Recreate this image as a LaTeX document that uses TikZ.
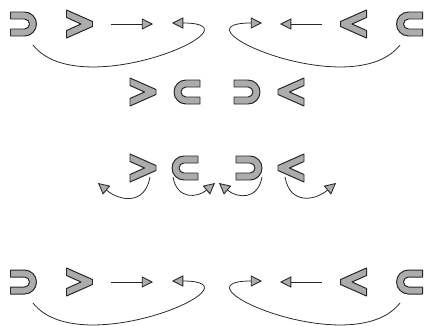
\documentclass[tikz,border=0pt]{standalone}
\usetikzlibrary{arrows.meta}

\begin{document}
\begin{tikzpicture}[x=0.025cm, y=0.025cm,
    glyph/.style={draw=black!85, fill=gray!65, line width=0.7pt, line join=round},
    arrow/.style={-{Triangle[length=8pt, width=8pt, fill=gray!65, line width=0.6pt]}, line width=0.55pt, draw=black!85},
    supset/.pic={\draw[glyph] (-13,12) -- (1,12) arc (90:-90:12) -- (-13,-12) -- (-13,-5) -- (1,-5) arc (-90:90:5) -- (-13,5) -- cycle;},
    gt/.pic={\draw[glyph] (-13,14) -- (13,2.5) -- (13,-2.5) -- (-13,-14) -- (-13,-6.5) -- (1.5,0) -- (-13,6.5) -- cycle;}
]
\useasboundingbox (0,0) rectangle (425,325);

% top and bottom rows
\foreach \y/\r in {301/a, 43/d} {
  \coordinate (sup\r) at (23.5,\y);
  \coordinate (gt\r) at (79.5,\y);
  \coordinate (headL\r) at (153,\y);
  \coordinate (tipL\r) at (172,\y+1);
  \coordinate (sub\r) at (409.5,\y);
  \coordinate (lt\r) at (353.5,\y);
  \coordinate (headR\r) at (280,\y);
  \coordinate (tipR\r) at (262,\y+1);

  \pic at (sup\r) {supset};
  \pic at (gt\r) {gt};
  \pic[xscale=-1] at (sub\r) {supset};
  \pic[xscale=-1] at (lt\r) {gt};

  \draw[arrow] ([xshift=22.5]gt\r) -- (headL\r);
  \draw[arrow] ([xshift=-22.5]lt\r) -- (headR\r);
  \draw[arrow] ([shift={(9.5,-21)}]sup\r) .. controls +(47,-60) and +(95,0) .. (tipL\r);
  \draw[arrow] ([shift={(-9.5,-21)}]sub\r) .. controls +(-47,-60) and +(-95,0) .. (tipR\r);
}

% second row
\coordinate (gtb) at (143,233);
\coordinate (subb) at (187,233);
\coordinate (supb) at (247,233);
\coordinate (ltb) at (291,233);
\pic at (gtb) {gt};
\pic[xscale=-1] at (subb) {supset};
\pic at (supb) {supset};
\pic[xscale=-1] at (ltb) {gt};

% third row
\coordinate (gtc) at (143,157);
\coordinate (subc) at (185,157);
\coordinate (supc) at (249,157);
\coordinate (ltc) at (291,157);
\coordinate (tip1) at (98,142);
\coordinate (tip2) at (215,142);
\coordinate (tip3) at (219,142);
\coordinate (tip4) at (336,142);
\pic at (gtc) {gt};
\pic[xscale=-1] at (subc) {supset};
\pic at (supc) {supset};
\pic[xscale=-1] at (ltc) {gt};

\draw[arrow] ([shift={(7,-9)}]gtc) to[out=-100, in=-40, looseness=1.4] (tip1);
\draw[arrow] ([shift={(-12,-9)}]subc) to[out=-80, in=-140, looseness=1.4] (tip2);
\draw[arrow] ([shift={(13,-9)}]supc) to[out=-100, in=-40, looseness=1.4] (tip3);
\draw[arrow] ([shift={(-6,-9)}]ltc) to[out=-80, in=-140, looseness=1.4] (tip4);
\end{tikzpicture}
\end{document}
